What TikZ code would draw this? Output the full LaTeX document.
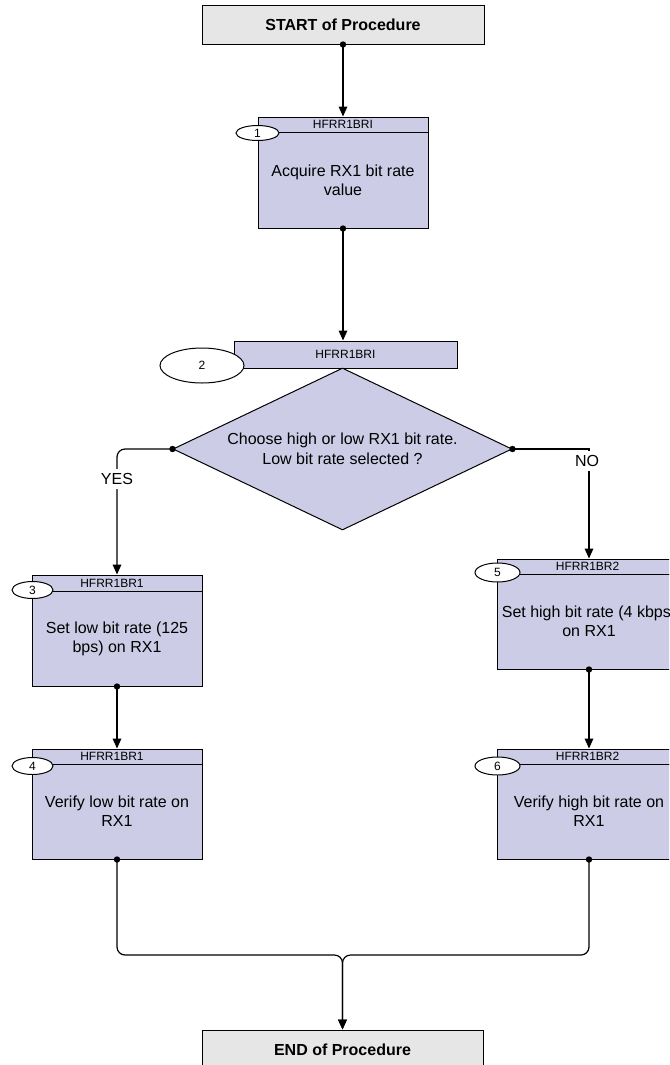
\documentclass[tikz,border=0pt]{standalone}
\usepackage{fontspec}
\setmainfont{Liberation Sans}
\usetikzlibrary{shapes.geometric,arrows.meta,calc}
\definecolor{boxfill}{RGB}{204,204,230}
\definecolor{termfill}{RGB}{230,230,230}
\begin{document}
\begin{tikzpicture}[x=0.75pt,y=-0.75pt,
  hdr/.style={draw,line width=0.75pt,fill=boxfill,minimum width=127.5pt,minimum height=11.25pt,inner sep=0pt,font=\fontsize{9pt}{10pt}\selectfont},
  bodybox/.style={draw,line width=0.75pt,fill=boxfill,minimum width=127.5pt,minimum height=71.25pt,inner sep=0pt,align=center,font=\fontsize{12pt}{14.25pt}\selectfont},
  term/.style={draw,line width=0.75pt,fill=termfill,minimum width=211.5pt,minimum height=29.25pt,inner sep=0pt,font=\bfseries\fontsize{12pt}{14pt}\selectfont},
  num/.style={ellipse,draw,line width=0.75pt,fill=white,inner sep=0pt,minimum width=30.75pt,minimum height=12.75pt,font=\fontsize{9pt}{10pt}\selectfont},
  conn/.style={-{Triangle[length=7.5pt,width=6.5pt]},line width=0.9pt},
  lbl/.style={fill=white,inner sep=3pt,font=\fontsize{12pt}{14pt}\selectfont},
  dot/.style={fill=black}]
\useasboundingbox (0,0) rectangle (669,1065);
\clip (0,0) rectangle (669,1065);
\fill[white] (0,0) rectangle (669,1065);

% terminals
\node[term] (start) at (343,24.5) {START of Procedure};
\node[term,minimum width=210.75pt] (end) at (342.5,1049.5) {END of Procedure};

% step 1
\node[bodybox,minimum height=72pt] (b1) at (343,180) {Acquire RX1 bit rate\\value};
\node[hdr] (h1) at (343,124.5) {HFRR1BRI};
\node[num,minimum width=32.25pt,minimum height=11.25pt] (e1) at (257.5,133) {1};

% step 2 (decision)
\node[hdr,minimum width=167.25pt,minimum height=20.25pt] (bar2) at (345.5,354.5) {HFRR1BRI};
\node[diamond,draw,line width=0.75pt,fill=boxfill,aspect=2.09,inner sep=0pt,
      minimum width=254.25pt,minimum height=121.5pt,align=center,
      font=\fontsize{12pt}{15pt}\selectfont] (dia) at (342.5,449)
      {Choose high or low RX1 bit rate.\\Low bit rate selected ?};
\node[num,minimum width=63pt,minimum height=26.25pt] (e2) at (202,365.5) {2};

% step 3
\node[bodybox] (b3) at (117,638.5) {Set low bit rate (125\\bps) on RX1};
\node[hdr,minimum height=12pt] (h3) at (117,583) {\hspace*{-7.5pt}HFRR1BR1};
\node[num] (e3) at (32.5,590) {3};

% step 4
\node[bodybox] (b4) at (117,811.5) {Verify low bit rate on\\RX1};
\node[hdr] (h4) at (117,756.5) {\hspace*{-7.5pt}HFRR1BR1};
\node[num] (e4) at (32.5,766) {4};

% step 5
\node[bodybox,minimum width=138pt] (b5) at (589,621.5) {Set high bit rate (4 kbps\phantom{)}\\on RX1};
\node[hdr,minimum width=138pt] (h5) at (589,566.5) {\hspace*{-2pt}HFRR1BR2};
\node[num,minimum width=33.75pt,minimum height=14.25pt] (e5) at (497.5,572.5) {5};

% step 6
\node[bodybox,minimum width=138pt] (b6) at (589,811.5) {Verify high bit rate on\\RX1};
\node[hdr,minimum width=138pt] (h6) at (589,756.5) {\hspace*{-2pt}HFRR1BR2};
\node[num,minimum width=33.75pt,minimum height=13.5pt] (e6) at (497.5,766) {6};

% connectors
\draw[conn] (start.south) -- (h1.north);
\draw[conn] (b1.south) -- (b1.south |- bar2.north);
\draw[conn,rounded corners=6pt] (dia.west) -| (h3.north);
\node[lbl] (yes) at (117,479) {YES};
\draw[conn] (dia.east) -| (h5.north);
\node[lbl] (no) at (587,461) {NO};
\draw[conn] (b3.south) -- (h4.north);
\draw[conn] (b5.south) -- (h6.north);
\coordinate (m) at (342.5,955);
\draw[conn,rounded corners=6pt] (b4.south) -- (b4.south |- m) -- (m) -- (end.north);
\draw[conn,rounded corners=6pt] (b6.south) -- (b6.south |- m) -- (m) -- (end.north);

% dots
\foreach \p in {start.south,b1.south,dia.west,dia.east,b3.south,b4.south,b5.south,b6.south}
  \fill[dot] (\p) circle (2.4pt);
\end{tikzpicture}
\end{document}
